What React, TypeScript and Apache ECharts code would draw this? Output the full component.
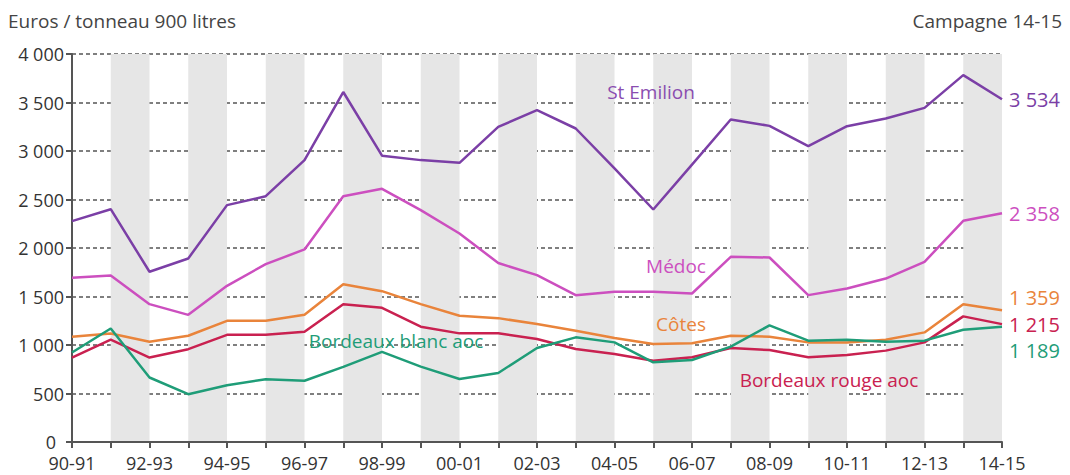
import React, { useEffect, useRef } from "react";
import * as echarts from "echarts";

const categories = [
  "90-91", "91-92", "92-93", "93-94", "94-95", "95-96", "96-97", "97-98", "98-99", "99-00",
  "00-01", "01-02", "02-03", "03-04", "04-05", "05-06", "06-07", "07-08", "08-09", "09-10",
  "10-11", "11-12", "12-13", "13-14", "14-15",
];
const stEmilion = [2277, 2400, 1755, 1892, 2442, 2534, 2906, 3608, 2952, 2906, 2878, 3249, 3421, 3232, 2820, 2397, 2860, 3325, 3259, 3050, 3256, 3335, 3445, 3782, 3534];
const medoc = [1693, 1716, 1421, 1311, 1610, 1834, 1985, 2534, 2610, 2390, 2150, 1845, 1720, 1514, 1548, 1548, 1531, 1909, 1902, 1514, 1582, 1685, 1857, 2280, 2358];
const cotes = [1084, 1119, 1033, 1095, 1249, 1249, 1311, 1627, 1555, 1421, 1301, 1277, 1216, 1147, 1072, 1010, 1017, 1096, 1086, 1027, 1027, 1055, 1130, 1421, 1359];
const rouge = [871, 1055, 871, 957, 1105, 1105, 1136, 1421, 1384, 1189, 1120, 1120, 1062, 959, 907, 838, 873, 969, 948, 873, 897, 942, 1027, 1295, 1215];
const blanc = [923, 1170, 665, 493, 586, 648, 631, 775, 929, 777, 650, 712, 969, 1079, 1027, 821, 845, 983, 1202, 1045, 1055, 1034, 1045, 1158, 1189];

const FONT = "'Open Sans', 'Noto Sans', sans-serif";
const fmt = (v: number) => {
  const s = String(Math.round(v));
  return s.length > 3 ? s.slice(0, s.length - 3) + " " + s.slice(-3) : s;
};

const seriesDefs = [
  { name: "St Emilion", data: stEmilion, color: "#7b3fa6", offset: [-1, 0] },
  { name: "Médoc", data: medoc, color: "#cc4fbf", offset: [-1, 0] },
  { name: "Côtes", data: cotes, color: "#e9843b", offset: [-1, -13] },
  { name: "Bordeaux rouge aoc", data: rouge, color: "#c92150", offset: [-1, 0] },
  { name: "Bordeaux blanc aoc", data: blanc, color: "#1f9d78", offset: [-1, 24] },
];

export default function App() {
  const ref = useRef<HTMLDivElement>(null);
  useEffect(() => {
    document.body.style.margin = "0";
    const chart = echarts.init(ref.current!, null, { renderer: "svg" });
    const ann = (text: string, x: number, y: number, fill: string) => ({
      type: "text",
      x,
      y,
      z: 100,
      style: { text, fill, font: `19px ${FONT}`, align: "center", verticalAlign: "middle" },
    });
    chart.setOption({
      animation: false,
      backgroundColor: "#ffffff",
      textStyle: { fontFamily: FONT },
      grid: { left: 72, right: 68, top: 54, bottom: 33, containLabel: false },
      xAxis: {
        type: "category",
        data: categories,
        boundaryGap: false,
        axisLine: { lineStyle: { color: "#555", width: 2 } },
        axisTick: { show: true, interval: 0, length: 6, lineStyle: { color: "#555", width: 2 } },
        axisLabel: { interval: 1, color: "#333", fontSize: 18, margin: 12, lineHeight: 18, fontFamily: FONT },
        splitLine: { show: false },
        splitArea: { show: true, interval: 0, areaStyle: { color: ["rgba(255,255,255,0)", "#e6e6e6"] } },
      },
      yAxis: {
        type: "value",
        min: 0,
        max: 4000,
        interval: 500,
        axisLine: { show: true, lineStyle: { color: "#555", width: 2 } },
        axisTick: { show: true, length: 6, lineStyle: { color: "#555", width: 2 } },
        axisLabel: {
          color: "#333",
          fontSize: 18,
          margin: 8,
          lineHeight: 18,
          fontFamily: FONT,
          formatter: (v: number) => (v === 0 ? "{z|0}" : fmt(v)),
          rich: { z: { color: "#333", fontSize: 18, lineHeight: 18, fontFamily: FONT, padding: [0, 8, 0, 0] } },
        },
        splitLine: { show: true, lineStyle: { color: "#555", type: [4, 3], width: 1.5 } },
      },
      series: seriesDefs.map((s) => ({
        name: s.name,
        type: "line",
        data: s.data,
        symbol: "none",
        lineStyle: { color: s.color, width: 2.5 },
        itemStyle: { color: s.color },
        z: 3,
        endLabel: {
          show: true,
          formatter: (p: any) => fmt(p.value),
          color: s.color,
          fontSize: 20,
          lineHeight: 20,
          fontFamily: FONT,
          offset: s.offset,
        },
      })),
      graphic: [
        { type: "text", left: 8, top: 11, z: 100, style: { text: "Euros / tonneau 900 litres", fill: "#444", font: `19px ${FONT}` } },
        { type: "text", right: 8, top: 11, z: 100, style: { text: "Campagne 14-15", fill: "#444", font: `19px ${FONT}` } },
        ann("St Emilion", 651, 92, "#8a4db0"),
        ann("Médoc", 676, 266, "#cc4fbf"),
        ann("Côtes", 681, 324, "#e9843b"),
        ann("Bordeaux blanc aoc", 396, 341, "#1f9d78"),
        ann("Bordeaux rouge aoc", 829, 380, "#c92150"),
      ],
    });
    return () => chart.dispose();
  }, []);
  return <div ref={ref} style={{ width: 1070, height: 475 }} />;
}
